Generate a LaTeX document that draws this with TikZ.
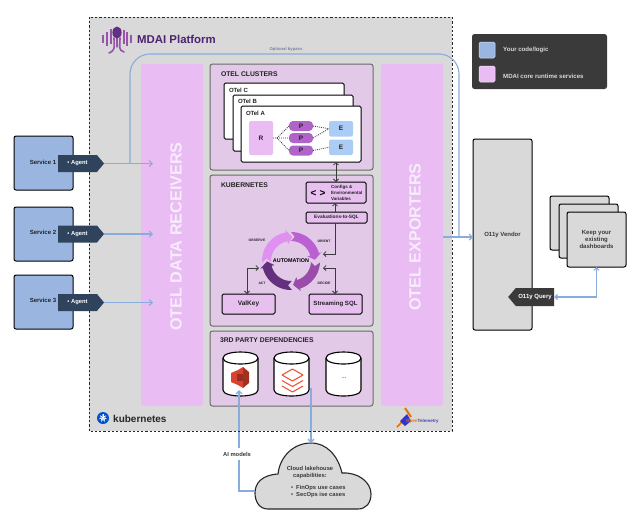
\documentclass[tikz,border=0pt]{standalone}
\usepackage{fontspec}
\setmainfont{Liberation Sans}
\usetikzlibrary{arrows.meta,shapes.geometric,shapes.symbols,calc}
\definecolor{plat}{HTML}{D9D9D9}
\definecolor{pinkc}{HTML}{E9BDF3}
\definecolor{panelc}{HTML}{E2C9E8}
\definecolor{edgec}{HTML}{6A6A6A}
\definecolor{bluec}{HTML}{9AB6E0}
\definecolor{ebluec}{HTML}{ABCDF5}
\definecolor{linec}{HTML}{8AACDC}
\definecolor{agentc}{HTML}{2F435C}
\definecolor{darkc}{HTML}{3A3A3A}
\definecolor{inkc}{HTML}{222222}
\definecolor{purpc}{HTML}{B063C8}
\definecolor{titlec}{HTML}{4E2270}
\definecolor{ringa}{HTML}{DF90F0}
\definecolor{ringb}{HTML}{BA60D2}
\definecolor{ringc}{HTML}{9A4CAA}
\definecolor{ringd}{HTML}{62307C}
\definecolor{awsred}{HTML}{D8422E}
\definecolor{dbred}{HTML}{F0553C}
\newcommand\fsz[1]{\fontsize{#1}{#1}\selectfont\bfseries}
\tikzset{
  base/.style={inner sep=0pt,outer sep=0pt,anchor=north west,align=center},
  panel/.style={base,draw=edgec,line width=1pt,fill=panelc,rounded corners=2.5pt},
  band/.style={base,fill=pinkc,rounded corners=2pt},
  card/.style={base,draw=black,line width=1pt,fill=white,rounded corners=1.5pt},
  greycard/.style={base,draw=black,line width=1pt,fill=plat,rounded corners=2pt,text=darkc},
  purplebox/.style={base,draw=black,line width=1pt,fill=pinkc!75!panelc,rounded corners=1.5pt,text=inkc},
  service/.style={base,draw=black,line width=1pt,fill=bluec,rounded corners=2pt},
  label/.style={inner sep=0pt,outer sep=0pt,text=inkc,font=\fsz{6}},
  heading/.style={inner sep=0pt,outer sep=0pt,anchor=west,text=inkc,font=\fsz{6.8}},
  vband/.style={inner sep=0pt,rotate=90,text=white!70!pinkc,font=\fsz{16.2}},
  smalltag/.style={inner sep=0pt,text=inkc,font=\fsz{3.4}},
  agenttag/.style={signal,signal to=east,signal from=nowhere,signal pointer angle=100,fill=agentc,text=white,inner sep=0pt,outer sep=0pt,minimum width=46pt,minimum height=17pt,font=\fsz{5.8}},
  querytag/.style={signal,signal to=west,signal from=nowhere,signal pointer angle=100,fill=darkc,text=white,inner sep=0pt,outer sep=0pt,minimum width=46pt,minimum height=18pt,font=\fsz{6}},
  flow/.style={draw=linec,line width=1.1pt,-{Straight Barb[length=3pt,width=6pt]}},
  flowplain/.style={draw=linec,line width=1.1pt},
  link/.style={draw=darkc,line width=.8pt,{Straight Barb[length=2.5pt,width=5pt]}-{Straight Barb[length=2.5pt,width=5pt]}},
  oneway/.style={draw=darkc,line width=.8pt,-{Straight Barb[length=2.5pt,width=5pt]}},
  dots/.style={draw=darkc,line width=.8pt,dash pattern=on .9pt off 1.1pt},
  drumframe/.style={inner sep=0pt,outer sep=0pt,minimum width=35pt,minimum height=44pt,anchor=center},
  drumline/.style={draw=black,line width=1.1pt,fill=white},
}
% clockwise arrow segment of the automation ring
\newcommand\ringseg[3]{%
  \fill[#3] plot[domain=#1:#2,samples=24] ({291+29*cos(\x)},{261-29*sin(\x)})
    -- ({291+31.5*cos(#2)},{261-31.5*sin(#2)})
    -- ({291+24*cos(#2-13)},{261-24*sin(#2-13)})
    -- ({291+17*cos(#2)},{261-17*sin(#2)})
    -- plot[domain=#2:#1,samples=24] ({291+20*cos(\x)},{261-20*sin(\x)})
    -- ({291+24.5*cos(#1-9)},{261-24.5*sin(#1-9)}) -- cycle;}
% database drum: name, centre x
\newcommand\drumat[2]{%
  \node[drumframe] (#1) at (#2,374) {};
  \draw[drumline] (#2-17.5,358) .. controls (#2-17.5,350) and (#2+17.5,350) .. (#2+17.5,358)
    -- (#2+17.5,390) .. controls (#2+17.5,398) and (#2-17.5,398) .. (#2-17.5,390) -- cycle;
  \draw[black,line width=1.1pt] (#2-17.5,358) .. controls (#2-17.5,366) and (#2+17.5,366) .. (#2+17.5,358);}
\begin{document}
\begin{tikzpicture}[x=1pt,y=-1pt]
\useasboundingbox (0,0) rectangle (640,523);
\fill[white] (0,0) rectangle (640,523);
% platform
\node[base,fill=plat,minimum width=363pt,minimum height=414pt] (platform) at (89,17) {};
% title and octopus
\foreach \bx/\bt/\bb in {103/35/43,107/32/46,110.5/29/44,123.5/30/44,127/32/46,131/35/43}{\fill[purpc!85!black] (\bx-1,\bt) rectangle (\bx+1,\bb);}
\draw[purpc!85!black,line width=1.6pt,line cap=round] (114,38) .. controls (114,47) and (116,50) .. (109,53);
\draw[purpc!85!black,line width=1.6pt,line cap=round] (120,38) .. controls (120,47) and (118,50) .. (124,52);
\draw[purpc!85!black,line width=1.3pt,line cap=round] (117,38) -- (117,47);
\fill[titlec!80!purpc] (117,32.5) ellipse (4.6pt and 6pt);
\node[inner sep=0pt,anchor=west,text=titlec,font=\fsz{11.4}] (title) at (137,39) {MDAI Platform};
% bands
\node[band,minimum width=62pt,minimum height=342pt] (recv) at (141,64) {};
\node[band,minimum width=62pt,minimum height=342pt] (expo) at (381,64) {};
\node[vband] (recvt) at (176,236.5) {OTEL DATA RECEIVERS};
\node[vband] (expot) at (415,237) {OTEL EXPORTERS};
% panels
\node[panel,minimum width=163pt,minimum height=106pt] (clusters) at (210,64) {};
\node[panel,minimum width=163pt,minimum height=151pt] (kube) at (210,175) {};
\node[panel,minimum width=163pt,minimum height=75pt] (third) at (210,331) {};
\node[heading] (clusterst) at (221,74) {OTEL CLUSTERS};
\node[heading] (kubet) at (221,185) {KUBERNETES};
\node[heading] (thirdt) at (220,340.5) {3RD PARTY DEPENDENCIES};
% otel cards
\node[card,minimum width=120pt,minimum height=56pt] (oc) at (224,83) {};
\node[card,minimum width=120pt,minimum height=56pt] (ob) at (233,95) {};
\node[card,minimum width=120pt,minimum height=56pt] (oa) at (241,106) {};
\node[label,anchor=west] (oct) at (229,90) {OTel C};
\node[label,anchor=west] (obt) at (238,101) {OTel B};
\node[label,anchor=west] (oat) at (246,113) {OTel A};
\node[base,fill=pinkc,rounded corners=2pt,minimum width=24pt,minimum height=34pt,font=\fsz{6.5},text=inkc] (rr) at (249,121) {R};
\node[base,fill=purpc,rounded corners=4pt,minimum width=24pt,minimum height=10pt,font=\fsz{6.5},text=inkc] (p1) at (289,121) {P};
\node[base,fill=purpc,rounded corners=4pt,minimum width=24pt,minimum height=10pt,font=\fsz{6.5},text=inkc] (p2) at (289,133) {P};
\node[base,fill=purpc,rounded corners=4pt,minimum width=24pt,minimum height=10pt,font=\fsz{6.5},text=inkc] (p3) at (289,145.5) {P};
\node[base,fill=ebluec,rounded corners=2pt,minimum width=24pt,minimum height=15.5pt,font=\fsz{6.5},text=inkc] (e1) at (329,121) {E};
\node[base,fill=ebluec,rounded corners=2pt,minimum width=24pt,minimum height=15.5pt,font=\fsz{6.5},text=inkc] (e2) at (329,139.5) {E};
\coordinate (fan) at (277,138);
\draw[dots] (rr.east) -- (fan) (fan) -- (p1.west) (fan) -- (p2.west) (fan) -- (p3.west);
\draw[dots] (p1.east) -- (e1.west) (p2.east) -- (e1.west) (p3.east) -- (e2.west);
% kubernetes
\node[purplebox,minimum width=60pt,minimum height=21pt] (cfg) at (306,182) {};
\node[inner sep=0pt,font=\fsz{10},text=black] (cfgi) at (318,193) {<\hspace{3pt}>};
\node[inner sep=0pt,anchor=west,align=left,font=\fontsize{4.5}{6}\selectfont\bfseries,text=inkc] (cfgt) at (331,192.5) {Configs \&\\Environmental\\Variables};
\node[purplebox,minimum width=61pt,minimum height=11pt,font=\fsz{4.8}] (evals) at (306,212) {Evaluations-to-SQL};
\node[purplebox,minimum width=53pt,minimum height=20pt,font=\fsz{6.5}] (valkey) at (222,294) {ValKey};
\node[purplebox,minimum width=53pt,minimum height=20pt,font=\fsz{6.1}] (sql) at (309,294) {Streaming SQL};
\ringseg{183}{100}{ringa}
\ringseg{90}{16}{ringb}
\ringseg{-3}{-72}{ringc}
\ringseg{-88}{-166}{ringd}
\node[inner sep=0pt,font=\fsz{5.4},text=black] (autot) at (291,261) {AUTOMATION};
\node[smalltag] (obs) at (257,240) {OBSERVE};
\node[smalltag] (ori) at (324,241) {ORIENT};
\node[smalltag] (dec) at (324,283) {DECIDE};
\node[smalltag] (act) at (262,283) {ACT};
\coordinate (ringO) at (323,254);
\coordinate (ringD) at (323,268);
\coordinate (ringA) at (259,268);
\coordinate (upA) at (336,162);
\draw[link] (upA) -- (upA |- cfg.north);
\draw[oneway] (evals.north -| 335,0) -- (cfg.south -| 335,0);
\draw[oneway] (evals.south -| 335,0) |- (ringO);
\draw[link] (ringD) -| (sql.north -| 335,0);
\draw[link] (ringA) -| (valkey.north -| 247,0);
% third party
\drumat{s3}{240.5}
\drumat{dbx}{291.5}
\drumat{more}{343.5}
\node[inner sep=0pt,font=\fsz{6},text=purpc] (moret) at (344,378) {...};
\fill[awsred] (238,370) -- (243,367) -- (243,388) -- (238,385) -- cycle;
\fill[awsred!75!black] (243,367) -- (249,372) -- (249,383) -- (243,388) -- cycle;
\fill[awsred] (231,373) -- (238,370) -- (238,385) -- (231,382) -- cycle;
\fill[awsred!70!black] (237,374) rectangle (243,381);
\foreach \dy in {0,5.5,11}{\draw[dbred,line width=1.1pt,line join=round] (282,{375+\dy}) -- (292.5,{381+\dy}) -- (303,{375+\dy});}
\draw[dbred,line width=1.1pt,line join=round] (282,375) -- (292.5,369) -- (303,375);
% cloud
\draw[draw=black!85,line width=1.1pt,fill=plat] (268,509) .. controls (259,509) and (255,501) .. (255,493)
  .. controls (255,483) and (262,475) .. (278,474)
  .. controls (280,456) and (294,443) .. (311,443)
  .. controls (327,443) and (338,456) .. (342,473)
  .. controls (358,472) and (371,482) .. (371,494)
  .. controls (371,503) and (366,509) .. (358,509) -- cycle;
\coordinate (cloudL) at (255,491);
\coordinate (cloudT) at (311,443);
\node[inner sep=0pt,align=center,font=\fontsize{5.8}{7.5}\selectfont\bfseries,text=darkc] (cloudt) at (310,472.5) {Cloud lakehouse\\capabilities:};
\node[inner sep=0pt,anchor=west,align=left,font=\fontsize{5.8}{7.3}\selectfont\bfseries,text=darkc] (cloudl) at (291,491.5) {•\hspace{3pt}FinOps use cases\\•\hspace{3pt}SecOps ise cases};
\coordinate (s3in) at (239,390);
\coordinate (dbout) at (311,388);
\coordinate (aimlow) at (239,460);
\coordinate (aimup) at (239,448);
\draw[flowplain,line width=1.3pt] (cloudL) -| (aimlow);
\draw[flow,line width=1.3pt] (aimup) -- (s3in);
\draw[flow,line width=1.3pt] (dbout) -- (cloudT);
\node[inner sep=0pt,font=\fsz{5.8},text=darkc] (aim) at (237,454) {AI models};
% border
\draw[black!85,line width=1pt,dash pattern=on 2.2pt off 2pt] (platform.north west) rectangle (platform.south east);
% services
\node[service,minimum width=59pt,minimum height=54pt] (s1) at (14,136) {};
\node[service,minimum width=59pt,minimum height=54pt] (s2) at (14,207) {};
\node[service,minimum width=59pt,minimum height=54pt] (s3svc) at (14,275) {};
\node[label] (s1t) at (43,162) {Service 1};
\node[label] (s2t) at (43,232.5) {Service 2};
\node[label] (s3t) at (43,300) {Service 3};
\node[agenttag] (a1) at (77.5,163.5) {• Agent};
\node[agenttag] (a2) at (77.5,234) {• Agent};
\node[agenttag] (a3) at (77.5,302.5) {• Agent};
\coordinate (r1) at (153,163.5);
\coordinate (r2) at (153,234);
\coordinate (r3) at (153,302.5);
\draw[flow] (a1.east) -- (r1);
\draw[flow] (a2.east) -- (r2);
\draw[flow] (a3.east) -- (r3);
% vendor
\node[greycard,minimum width=59pt,minimum height=191pt,font=\fsz{6}] (vendor) at (473,139) {O11y Vendor};
\coordinate (bypassS) at (130,163.5);
\coordinate (bypassE) at (459,237);
\draw[flowplain,rounded corners=20pt] (bypassS) -- (130,54) -- (459,54) -- (bypassE);
\draw[flow] (expo.east |- bypassE) -- (vendor.west |- bypassE);
\node[inner sep=0pt,font=\fsz{4.2},text=bluec!60!darkc] (bypasst) at (286,49) {Optional bypass};
% dashboards
\node[greycard,minimum width=59pt,minimum height=54pt] (d3) at (550,196) {};
\node[greycard,minimum width=59pt,minimum height=54pt] (d2) at (559,204) {};
\node[greycard,minimum width=59pt,minimum height=55pt,font=\fontsize{6}{7.3}\selectfont\bfseries] (d1) at (567,212) {Keep your\\existing\\dashboards};
\node[querytag] (query) at (535,297) {O11y Query\hspace{5pt}};
\draw[link,draw=linec,line width=1.1pt] (query.east) -| (d1.south);
% legend
\node[base,fill=darkc,rounded corners=2.5pt,minimum width=135pt,minimum height=55pt] (legend) at (472,34) {};
\node[base,fill=bluec,draw=white!60!bluec,line width=.5pt,rounded corners=1.5pt,minimum width=16pt,minimum height=16pt] (sw1) at (479,42) {};
\node[base,fill=pinkc,draw=white!60!pinkc,line width=.5pt,rounded corners=1.5pt,minimum width=16pt,minimum height=16pt] (sw2) at (479,66) {};
\node[inner sep=0pt,anchor=west,text=white!85!black,font=\fsz{6.1}] (lg1) at (503,50) {Your code/logic};
\node[inner sep=0pt,anchor=west,text=white!85!black,font=\fsz{6.1}] (lg2) at (503,76) {MDAI core runtime services};
% kubernetes logo
\fill[blue!60!cyan!80!black] (103,418) circle (6pt);
\foreach \a in {0,51.4,...,360}{\draw[white,line width=.6pt] (103,418) -- ++({3.8*cos(\a+90)},{-3.8*sin(\a+90)});}
\draw[white,line width=.6pt] (103,418) circle (2.2pt);
\node[inner sep=0pt,anchor=west,text=black!85,font=\fsz{10}] (k8s) at (113,419) {kubernetes};
% opentelemetry logo
\draw[orange!90!black,line width=1.5pt] (397,427) -- (404,420);
\fill[blue!60!gray] (400,421) -- (407,414) -- (411,421) -- (405,426) -- cycle;
\draw[orange!90!black,line width=2pt] (405,408) -- (411,417);
\node[inner sep=0pt,anchor=west,font=\fsz{4.5}] (otel) at (406,421) {\textcolor{orange!90!black}{Open}\textcolor{blue!45!gray}{Telemetry}};
\end{tikzpicture}
\end{document}
